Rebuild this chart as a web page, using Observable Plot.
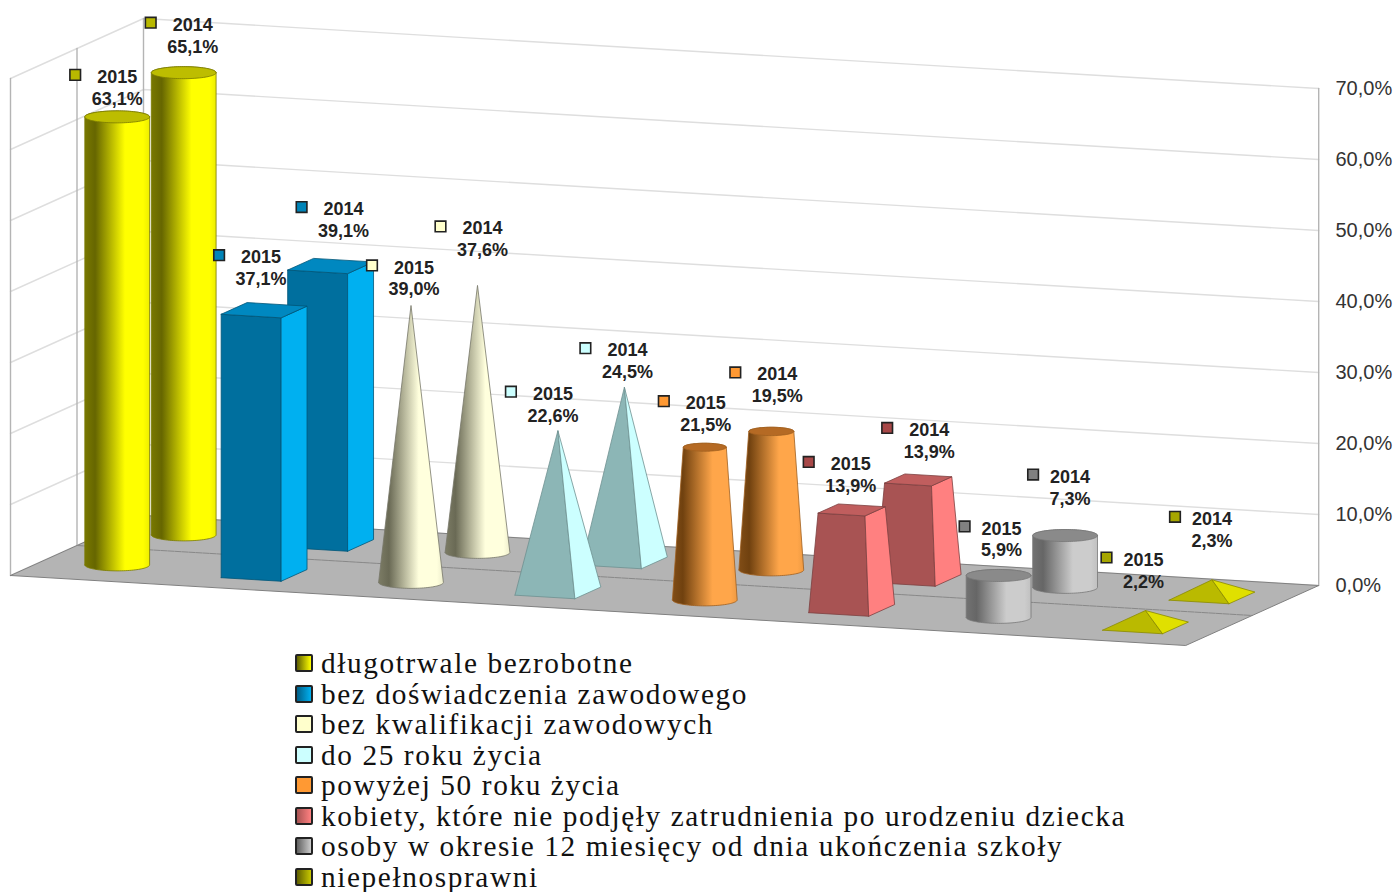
<!DOCTYPE html>
<html lang="pl">
<head>
<meta charset="utf-8">
<script src="https://cdn.jsdelivr.net/npm/d3@7"></script>
<script src="https://cdn.jsdelivr.net/npm/@observablehq/plot@0.6"></script>
<style>
  html, body { margin: 0; padding: 0; background: #fff; overflow: hidden; }
  #legend { font-family: "Liberation Serif", serif; font-size: 29.3px; letter-spacing: 1.6px; color: #111; padding-left: 295px; }
  .row { display: flex; align-items: center; height: 30.5px; line-height: 30.5px; white-space: nowrap; }
  .sw { width: 14px; height: 14px; border: 2px solid #222; border-radius: 2px; margin-right: 8px; flex: none; }
</style>
</head>
<body>
<div id="chart"></div>
<div id="legend"></div>
<script>
// ---- data ----
const categories = [
  "długotrwale bezrobotne",
  "bez doświadczenia zawodowego",
  "bez kwalifikacji zawodowych",
  "do 25 roku życia",
  "powyżej 50 roku życia",
  "kobiety, które nie podjęły zatrudnienia po urodzeniu dziecka",
  "osoby w okresie 12 miesięcy od dnia ukończenia szkoły",
  "niepełnosprawni"
];
const values2015 = [63.1, 37.1, 39.0, 22.6, 21.5, 13.9, 5.9, 2.2];
const values2014 = [65.1, 39.1, 37.6, 24.5, 19.5, 13.9, 7.3, 2.3];
const valueTicks = [0, 10, 20, 30, 40, 50, 60, 70];

// ---- appearance ----
const shapes = ["cylinder", "box", "cone", "pyramid", "taperedCylinder", "taperedBox", "cylinder", "pyramid"];
const palette = [
  {dark: "#666600", light: "#ffff00", edge: "#7a7a00", top: "#bdbd00", key: "#b8b800", sw: ["#5f5f00", "#ffff00"]},
  {front: "#006f9e", side: "#00b0f0", top: "#0088c0", edge: "#005577", key: "#0084b8", sw: ["#005f88", "#00b0f0"]},
  {dark: "#6a6a55", light: "#ffffdd", edge: "#77776a", key: "#ffffcc", sw: ["#ffffcc", "#ffffcc"]},
  {front: "#8cb6b6", side: "#ccffff", edge: "#6f9090", key: "#ccffff", sw: ["#ccffff", "#ccffff"]},
  {dark: "#70410f", light: "#ffa64a", edge: "#a06020", top: "#b56a24", key: "#ff9933", sw: ["#ff9933", "#ff9933"]},
  {front: "#a85353", side: "#ff8080", top: "#c05e5e", edge: "#7c4040", key: "#a84848", sw: ["#a85353", "#ff8080"]},
  {dark: "#666666", light: "#cccccc", edge: "#777777", top: "#8a8a8a", key: "#808080", sw: ["#606060", "#cccccc"]},
  {front: "#baba00", side: "#e0e000", edge: "#8a8a00", key: "#a6a600", sw: ["#5f5f00", "#c8c800"]}
];
// label offsets from the top of each solid, in pixels [dx, dy]
const labelNudge2015 = [[0,-41],[-3,-54],[3,-39],[-5,-38],[1,-45],[-1,-47],[3,-48],[-2,-52]];
const labelNudge2014 = [[9,-49],[13,-58],[5,-58],[3,-38],[6,-58],[11,-51],[5,-60],[0,-62]];

// ---- oblique projection of the 3D chart space onto the plot's x and y scales ----
// u: position along categories (0..8), d: depth (0..2), v: value in percent
const pxPerPct = 7.1;
const stepU = 146.9, stepD = 66.5, originX = 10;
const px = (u, d) => originX + stepU * u + stepD * d;
const py = (u, d, v) => v + (10 - 8.75 * u + 30 * d) / pxPerPct;
const P = (u, d, v) => ({x: px(u, d), y: py(u, d, v)});

const halfU = 0.204, halfD = 0.195, rx = 32.4, ry = 6, taperMax = 64;

const poly = (pts, fill, stroke, strokeWidth = 0.8) =>
  Plot.line(pts, {x: "x", y: "y", fill, stroke, strokeWidth, strokeLinejoin: "round"});

function squareSolid(c, depth, v, k, col) {
  const u0 = c + 0.5, d0 = depth + 0.5;
  const bot = (a, b) => P(u0 + a * halfU, d0 + b * halfD, 0);
  const top = (a, b) => P(u0 + a * halfU * k, d0 + b * halfD * k, v);
  const out = [
    poly([bot(-1,-1), bot(1,-1), top(1,-1), top(-1,-1), bot(-1,-1)], col.front, col.edge),
    poly([bot(1,-1), bot(1,1), top(1,1), top(1,-1), bot(1,-1)], col.side, col.edge)
  ];
  if (k > 0) out.push(poly([top(-1,-1), top(1,-1), top(1,1), top(-1,1), top(-1,-1)], col.top, col.edge));
  return out;
}

function roundSolid(c, depth, v, k, col, gradId) {
  const u0 = c + 0.5, d0 = depth + 0.5;
  const cx = px(u0, d0), by = py(u0, d0, 0), ty = by + v;
  const dy = ry / pxPerPct;
  const n = 48;
  const angles = d3.range(n + 1).map(i => Math.PI * i / n);
  const body = [
    ...angles.map(a => ({x: cx - rx * Math.cos(a), y: by - dy * Math.sin(a)})),
    ...angles.map(a => ({x: cx + rx * k * Math.cos(a), y: ty + dy * k * Math.sin(a)}))
  ];
  body.push(body[0]);
  const out = [poly(body, `url(#${gradId})`, col.edge)];
  if (k > 0) {
    const cap = d3.range(2 * n + 1).map(i => {
      const a = Math.PI * i / n;
      return {x: cx + rx * k * Math.cos(a), y: ty + dy * k * Math.sin(a)};
    });
    out.push(poly(cap, col.top, col.edge));
  }
  return out;
}

function solid(c, depth, v) {
  const col = palette[c];
  switch (shapes[c]) {
    case "cylinder": return roundSolid(c, depth, v, 1, col, `grad${c}`);
    case "cone": return roundSolid(c, depth, v, 0, col, `grad${c}`);
    case "taperedCylinder": return roundSolid(c, depth, v, 1 - v / taperMax, col, `grad${c}`);
    case "box": return squareSolid(c, depth, v, 1, col);
    case "pyramid": return squareSolid(c, depth, v, 0, col);
    case "taperedBox": return squareSolid(c, depth, v, 1 - v / taperMax, col);
  }
}

function gradients() {
  const g = d3.create("svg:defs");
  palette.forEach((col, c) => {
    if (!col.dark) return;
    const lg = g.append("linearGradient").attr("id", `grad${c}`);
    [[0, d3.interpolateRgb(col.dark, col.light)(0.12)], [0.16, col.dark], [0.62, col.light], [0.9, col.light], [1, d3.interpolateRgb(col.dark, col.light)(0.88)]]
      .forEach(([o, s]) => lg.append("stop").attr("offset", o).attr("stop-color", s));
  });
  return g.node();
}

// ---- labels ----
const labelsFor = (values, nudges, year) => values.map((v, c) => {
  const [dx, dy] = nudges[c];
  const depth = year === 2015 ? 0 : 1;
  const top = P(c + 0.5, depth + 0.5, v);
  const x = top.x + dx;
  const y = top.y - dy / pxPerPct;
  return {
    x,
    y,
    blockY: y - 11 / pxPerPct,
    keyX: x + (v >= 10 ? -42 : -37),
    keyY: y + 1 / pxPerPct,
    key: palette[c].key,
    text: `${year}\n${v.toFixed(1).replace(".", ",")}%`
  };
});
const labels = [...labelsFor(values2015, labelNudge2015, 2015), ...labelsFor(values2014, labelNudge2014, 2014)];

// ---- walls and floor ----
const wallLines = valueTicks.map(v => [P(0, 0, v), P(0, 2, v), P(8, 2, v)]);
const wallEdges = [[P(0, 0, 0), P(0, 0, 70)], [P(0, 1, 0), P(0, 1, 70)], [P(0, 2, 0), P(0, 2, 70)], [P(8, 2, 0), P(8, 2, 70)]];
const floorShape = [P(0, 0, 0), P(8, 0, 0), P(8, 2, 0), P(0, 2, 0), P(0, 0, 0)];

const chart = Plot.plot({
  width: 1396,
  height: 648,
  marginLeft: 0, marginRight: 66, marginTop: 0, marginBottom: 0,
  x: {domain: [0, 1330], range: [0, 1330], axis: null},
  y: {domain: [0, 70], range: [585, 88], axis: null},
  style: {background: "#fff", fontFamily: '"Liberation Sans", Arial, sans-serif', overflow: "visible"},
  marks: [
    gradients,
    wallLines.map(pts => Plot.line(pts, {x: "x", y: "y", stroke: "#dedede", strokeWidth: 1.4})),
    wallEdges.map(pts => Plot.line(pts, {x: "x", y: "y", stroke: "#b4b4b4", strokeWidth: 1.4})),
    poly(floorShape, "#b4b4b4", "#808080", 1),
    Plot.line([P(0, 1, 0), P(8, 1, 0)], {x: "x", y: "y", stroke: "#888", strokeWidth: 1, strokeDasharray: "6 1"}),
    values2014.map((v, c) => solid(c, 1, v)),
    values2015.map((v, c) => solid(c, 0, v)),
    Plot.axisY({
      anchor: "right", ticks: valueTicks, tickSize: 0, tickPadding: 5, label: null,
      tickFormat: d => d.toFixed(1).replace(".", ",") + "%",
      fontSize: 20, color: "#333"
    }),
    Plot.dot(labels, {x: "keyX", y: "keyY", symbol: "square", r: 6, fill: "key", stroke: "#222", strokeWidth: 1.6}),
    Plot.text(labels, {
      x: "x", y: "blockY", text: "text", fontSize: 18, fontWeight: "bold", fill: "#222",
      lineHeight: 1.22, lineAnchor: "middle"
    })
  ]
});
document.getElementById("chart").append(chart);
chart.style.display = "block";

// ---- legend ----
const legend = document.getElementById("legend");
categories.forEach((name, c) => {
  const row = document.createElement("div");
  row.className = "row";
  const sw = document.createElement("span");
  sw.className = "sw";
  const [a, b] = palette[c].sw;
  sw.style.background = `linear-gradient(90deg, ${a}, ${b})`;
  row.append(sw, name);
  legend.append(row);
});
</script>
</body>
</html>
